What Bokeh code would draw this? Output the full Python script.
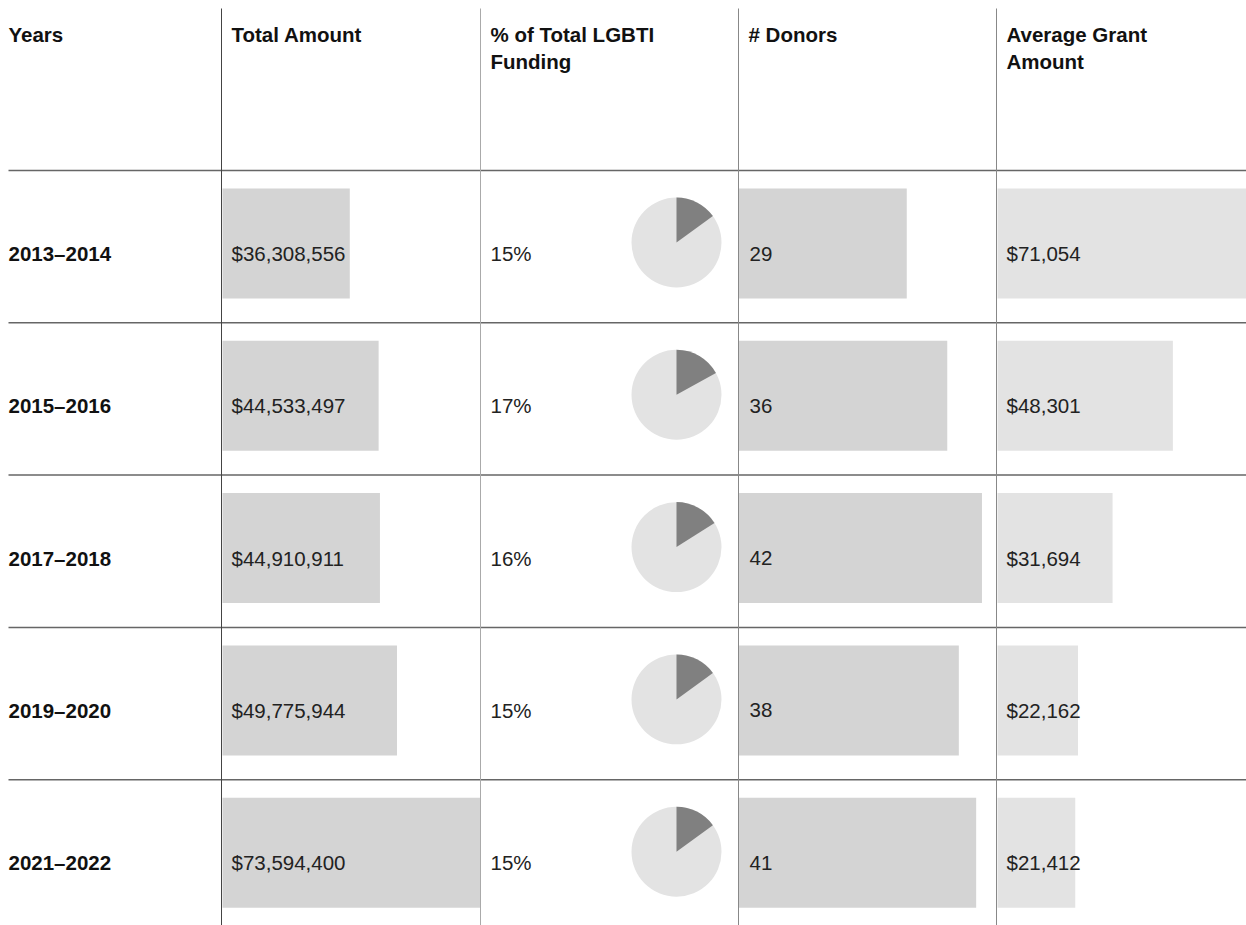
from bokeh.plotting import figure
from bokeh.models import Range1d
from bokeh.core.properties import value
from bokeh.embed import file_html
from bokeh.resources import INLINE
import math

# ---------------- data ----------------
headers = ["Years", "Total Amount", "% of Total LGBTI\nFunding", "# Donors", "Average Grant\nAmount"]
years = ["2013\u20132014", "2015\u20132016", "2017\u20132018", "2019\u20132020", "2021\u20132022"]
total_amount = [36308556, 44533497, 44910911, 49775944, 73594400]
pct_of_total = [15, 17, 16, 15, 15]
donors = [29, 36, 42, 38, 41]
avg_grant = [71054, 48301, 31694, 22162, 21412]

# ---------------- layout (page pixels) ----------------
W, H = 1246, 925
OFF = 0
col_lines = [221, 480, 738, 996]
col_w = 258
header_line = 170
row_h = 152.3
bar_top, bar_bot = 18, 128
FONT = value("Liberation Sans")
FS = "20.5px"

def px(x):  # page x -> plot x
    return x - OFF

def py(y):  # page y -> plot y
    return H - (y - OFF)

p = figure(width=W, height=H, output_backend="svg", toolbar_location=None,
           x_range=Range1d(0, W), y_range=Range1d(0, H), min_border=0)
p.axis.visible = False
p.grid.visible = False
p.outline_line_color = None
p.background_fill_color = "white"
p.border_fill_color = "white"

# per-column value scales so bars go through library scales
def add_scale(name, left_page, dmax):
    L = px(left_page)
    p.extra_x_ranges[name] = Range1d(-L / col_w * dmax, (W - L) / col_w * dmax)

add_scale("amount", col_lines[0] + 1, max(total_amount))
add_scale("donors", col_lines[2] + 0.5, 44.6)
add_scale("avg", col_lines[3] + 1, max(avg_grant))

n = len(years)
tops = [header_line + i * row_h for i in range(n)]
ycen = [py(t + (bar_top + bar_bot) / 2) for t in tops]
bar_h = bar_bot - bar_top

p.hbar(y=ycen, left=0, right=total_amount, height=bar_h, x_range_name="amount",
       fill_color="#d4d4d4", line_color=None)
p.hbar(y=ycen, left=0, right=donors, height=bar_h, x_range_name="donors",
       fill_color="#d4d4d4", line_color=None)
p.hbar(y=ycen, left=0, right=avg_grant, height=bar_h, x_range_name="avg",
       fill_color="#e3e3e3", line_color=None)

# pies
pie_x = [px(676)] * n
pie_y = [py(t + 72) for t in tops]
p.wedge(x=pie_x, y=pie_y, radius=45, radius_units="screen",
        start_angle=0, end_angle=2 * math.pi, fill_color="#e3e3e3", line_color=None)
starts = [math.pi / 2 - v / 100 * 2 * math.pi for v in pct_of_total]
p.wedge(x=pie_x, y=pie_y, radius=45, radius_units="screen",
        start_angle=starts, end_angle=[math.pi / 2] * n,
        fill_color="#808080", line_color=None)

# grid lines
hl = [header_line] + [t for t in tops[1:]]
p.segment(x0=[px(8)] * len(hl), x1=[W] * len(hl), y0=[py(y) for y in hl], y1=[py(y) for y in hl],
          line_color="#666666", line_width=1.5)
vcolors = ["#444444", "#aaaaaa", "#888888", "#888888"]
p.segment(x0=[px(x) for x in col_lines], x1=[px(x) for x in col_lines],
          y0=[py(8)] * 4, y1=[py(925)] * 4, line_color=vcolors, line_width=1)

# header texts
hx = [8] + [c + 10 for c in col_lines]
hx_l, hy_l, ht_l = [], [], []
for x, h in zip(hx, headers):
    for k, line in enumerate(h.split("\n")):
        hx_l.append(px(x)); hy_l.append(py(34 + 27 * k)); ht_l.append(line)
p.text(x=hx_l, y=hy_l, text=ht_l, text_font=FONT, text_font_size=FS,
       text_font_style="bold", text_color="#111111", text_baseline="alphabetic")

# row texts
base = [py(t + 83) for t in tops]
p.text(x=[px(8)] * n, y=base, text=years, text_font=FONT, text_font_size=FS,
       text_font_style="bold", text_color="#111111", text_baseline="alphabetic")
cols_text = [
    (col_lines[0] + 10, [f"${v:,}" for v in total_amount]),
    (col_lines[1] + 10, [f"{v}%" for v in pct_of_total]),
    (col_lines[2] + 11, [str(v) for v in donors]),
    (col_lines[3] + 10, [f"${v:,}" for v in avg_grant]),
]
for x, labels in cols_text:
    p.text(x=[px(x)] * n, y=base, text=labels, text_font=FONT, text_font_size=FS,
           text_color="#222222", text_baseline="alphabetic")

open("out.html", "w").write(file_html(p, INLINE))
